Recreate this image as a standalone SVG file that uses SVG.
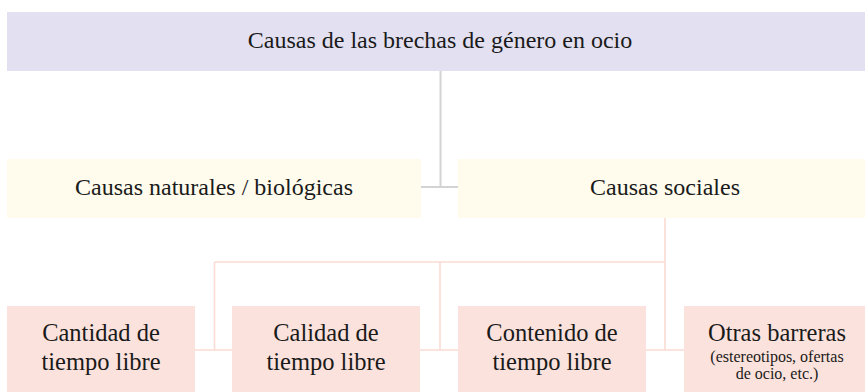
<svg xmlns="http://www.w3.org/2000/svg" width="865" height="392" viewBox="0 0 865 392">
<style>
text{font-family:"Liberation Serif","Times New Roman",serif;fill:#1a1a1a;text-anchor:middle}
.t{font-size:24px}
.b{font-size:24.5px}
.s{font-size:16px}
.top{fill:#e3e1f1}
.mid{fill:#fffcee}
.bot{fill:#fce2dc}
.g{stroke:#d3d3d3;stroke-width:2;fill:none}
.p{stroke:#fadcd4;stroke-width:1.6;fill:none}
</style>
<rect width="865" height="392" fill="#ffffff"/>
<g id="connectors">
<path class="g" d="M440.5 71V187M421 187H458"/>
<path class="p" d="M665 218V350M214.5 262H665M214.5 262V350M440 262V350M195 350H232M420 350H458M646 350H684"/>
</g>
<g id="n-root">
<rect class="top" x="7" y="12" width="866" height="59"/>
<text class="t" x="440" y="48">Causas de las brechas de género en ocio</text>
</g>
<g id="n-natural">
<rect class="mid" x="7" y="159" width="414" height="59"/>
<text class="t" x="214" y="195">Causas naturales / biológicas</text>
</g>
<g id="n-social">
<rect class="mid" x="458" y="159" width="415" height="59"/>
<text class="t" x="665" y="195">Causas sociales</text>
</g>
<g id="n-cantidad">
<rect class="bot" x="7" y="306" width="188" height="90"/>
<text class="b" x="101" y="341">Cantidad de</text>
<text class="b" x="101" y="370">tiempo libre</text>
</g>
<g id="n-calidad">
<rect class="bot" x="232" y="306" width="188" height="90"/>
<text class="b" x="326" y="341">Calidad de</text>
<text class="b" x="326" y="370">tiempo libre</text>
</g>
<g id="n-contenido">
<rect class="bot" x="458" y="306" width="188" height="90"/>
<text class="b" x="552" y="341">Contenido de</text>
<text class="b" x="552" y="370">tiempo libre</text>
</g>
<g id="n-otras">
<rect class="bot" x="684" y="306" width="188" height="90"/>
<text class="b" x="777" y="341">Otras barreras</text>
<text class="s" x="777" y="362">(estereotipos, ofertas</text>
<text class="s" x="777" y="379">de ocio, etc.)</text>
</g>
</svg>
